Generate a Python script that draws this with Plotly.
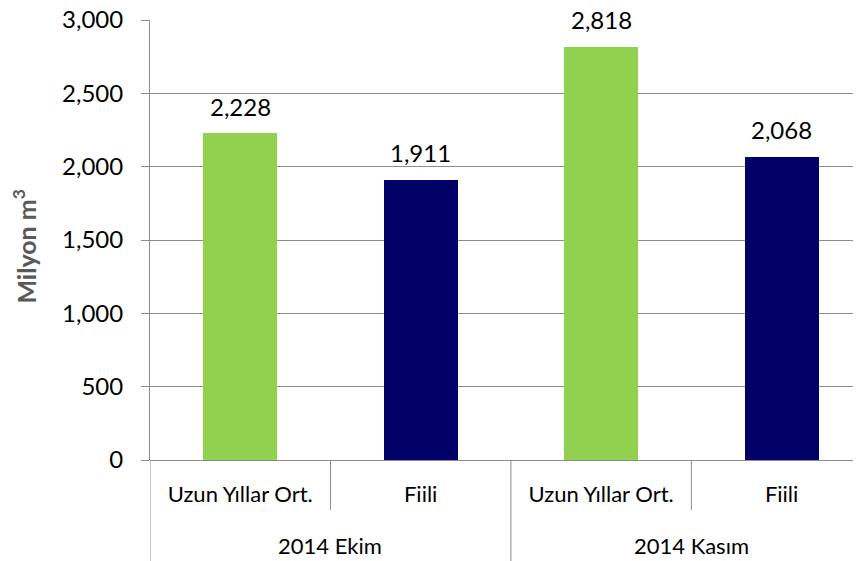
import plotly.graph_objects as go

groups = ["2014 Ekim", "2014 Kasım"]
series = ["Uzun Yıllar Ort.", "Fiili", "Uzun Yıllar Ort.", "Fiili"]
values = [2228, 1911, 2818, 2068]
colors = ["#92D050", "#000066", "#92D050", "#000066"]
y_ticks = [0, 500, 1000, 1500, 2000, 2500, 3000]

FONT = "Lato, 'Open Sans', sans-serif"
GRID = "#8C8C8C"

W, H = 853, 553          # page body has an 8px margin
ML, MR, MT, MB = 142, 0, 12, 101
PH = H - MT - MB
PW = W - ML - MR

xpos = list(range(len(series)))
n_per_group = len(series) // len(groups)

fig = go.Figure(go.Bar(
    x=xpos,
    y=values,
    marker=dict(color=colors, line=dict(width=0)),
    width=0.41,
    hoverinfo="y",
))

# data labels
for xi, v in zip(xpos, values):
    fig.add_annotation(x=xi, y=v, xref="x", yref="y", text=f"{v:,}",
                       showarrow=False, yanchor="middle", yshift=27,
                       font=dict(size=24, color="#000000", family=FONT))

# group labels and separators
for gi, g in enumerate(groups):
    center = gi * n_per_group + (n_per_group - 1) / 2
    fig.add_annotation(x=center, y=0, xref="x", yref="paper", text=g,
                       showarrow=False, yanchor="middle", yshift=-85,
                       font=dict(size=22, color="#000000", family=FONT))
    left = gi * n_per_group - 0.5
    fig.add_shape(type="line", xref="x", yref="paper", x0=left, x1=left,
                  y0=0, y1=-MB / PH, line=dict(color=GRID, width=1))
    for k in range(1, n_per_group):
        sep = gi * n_per_group + k - 0.5
        fig.add_shape(type="line", xref="x", yref="paper", x0=sep, x1=sep,
                      y0=0, y1=-50 / PH, line=dict(color=GRID, width=1))

fig.add_annotation(xref="paper", yref="paper", x=-125 / PW, y=0.485,
                   text="<b>Milyon m<sup>3</sup></b>", textangle=-90,
                   showarrow=False, xanchor="center", yanchor="middle",
                   font=dict(size=25, color="#595959", family=FONT))

fig.update_layout(
    width=W, height=H,
    margin=dict(l=ML, r=MR, t=MT, b=MB),
    paper_bgcolor="white", plot_bgcolor="white",
    font=dict(family=FONT, size=22, color="#000000"),
    showlegend=False,
    bargap=0,
)
fig.update_xaxes(
    range=[-0.5, 3.44],
    tickvals=xpos, ticktext=series,
    showline=False, showgrid=False, zeroline=False,
    ticks="", ticklabelstandoff=19,
    tickfont=dict(size=22, family=FONT),
    automargin=False,
)
fig.update_yaxes(
    range=[0, 3000],
    tickvals=y_ticks,
    tickformat=",",
    showgrid=True, gridcolor=GRID, gridwidth=1,
    showline=True, linecolor=GRID, linewidth=1,
    zeroline=True, zerolinecolor=GRID, zerolinewidth=1,
    ticks="outside", ticklen=8, tickcolor=GRID,
    ticklabelstandoff=13,
    ticklabeloverflow="allow",
    tickfont=dict(size=24, family=FONT),
    automargin=False,
)

fig.write_html("out.html")
